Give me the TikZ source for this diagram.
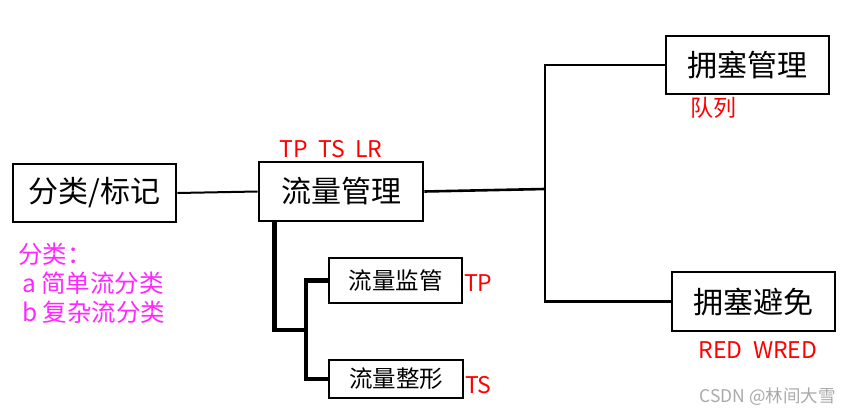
\documentclass[tikz,border=0pt]{standalone}
\usepackage{fontspec}
\setmainfont{Noto Sans CJK SC}
\usepackage{xcolor}
\definecolor{lblred}{RGB}{255,0,0}
\definecolor{notemag}{RGB}{255,40,255}
\definecolor{wmgray}{RGB}{170,170,170}
\usetikzlibrary{positioning}
\begin{document}
\begin{tikzpicture}[x=1pt,y=-1pt]
\tikzstyle{box}=[draw,line width=2.8pt,inner sep=0pt,font=\fontsize{30}{33}\selectfont]
\tikzstyle{subbox}=[box,font=\fontsize{23.5}{27}\selectfont]
\tikzstyle{lbl}=[text=lblred,inner sep=0pt,font=\fontsize{23}{26}\selectfont]
\tikzstyle{link}=[line width=2.6pt]
\tikzstyle{bus}=[line width=4.5pt]
\useasboundingbox[fill=white] (0,0) rectangle (851,415);
\node[box,minimum width=163pt,minimum height=58pt] (cls) at (94.5,193) {分类/标记};
\node[box,minimum width=164pt,minimum height=59pt] (flow) at (341,191.5) {流量管理};
\node[subbox,minimum width=133pt,minimum height=45pt] (pol) at (395.5,280.5) {流量监管};
\node[subbox,minimum width=134pt,minimum height=38pt] (shp) at (396,379) {流量整形};
\node[box,minimum width=163pt,minimum height=58pt] (cm) at (747.5,65) {拥塞管理};
\node[box,minimum width=163pt,minimum height=59pt] (ca) at (753.5,301.5) {拥塞避免};
\node[lbl] (flowtag) at (331,149) {TP\ \ TS\ \ LR};
\node[lbl,anchor=west] (poltag) at (464,283) {TP};
\node[lbl,anchor=west] (shptag) at (465,385) {TS};
\node[lbl] (cmtag) at (713,108) {队列};
\node[lbl] (catag) at (758,350) {RED\ \ WRED};
\node[text=notemag,anchor=north west,align=left,inner sep=0pt,font=\fontsize{24.5}{29}\selectfont] (clsnote) at (18,243)
  {分类：\\\hspace{4pt}a 简单流分类\\\hspace{4pt}b 复杂流分类};
\node[text=wmgray,anchor=east,inner sep=0pt,font=\fontsize{17.5}{20}\selectfont] (wm) at (836,397) {CSDN @林间大雪};
\coordinate (fk) at (306,330);
\coordinate (rj) at (545,189);
\draw[line width=2pt] (cls.east) -- (flow.west);
\draw[bus] ([xshift=17pt]flow.south west) |- (fk);
\draw[bus] (pol.west) -| (fk) |- (shp.west);
\draw[link] (flow.east) -- (rj);
\draw[link] (cm.west) -| (rj) |- (ca.west);
\end{tikzpicture}
\end{document}
